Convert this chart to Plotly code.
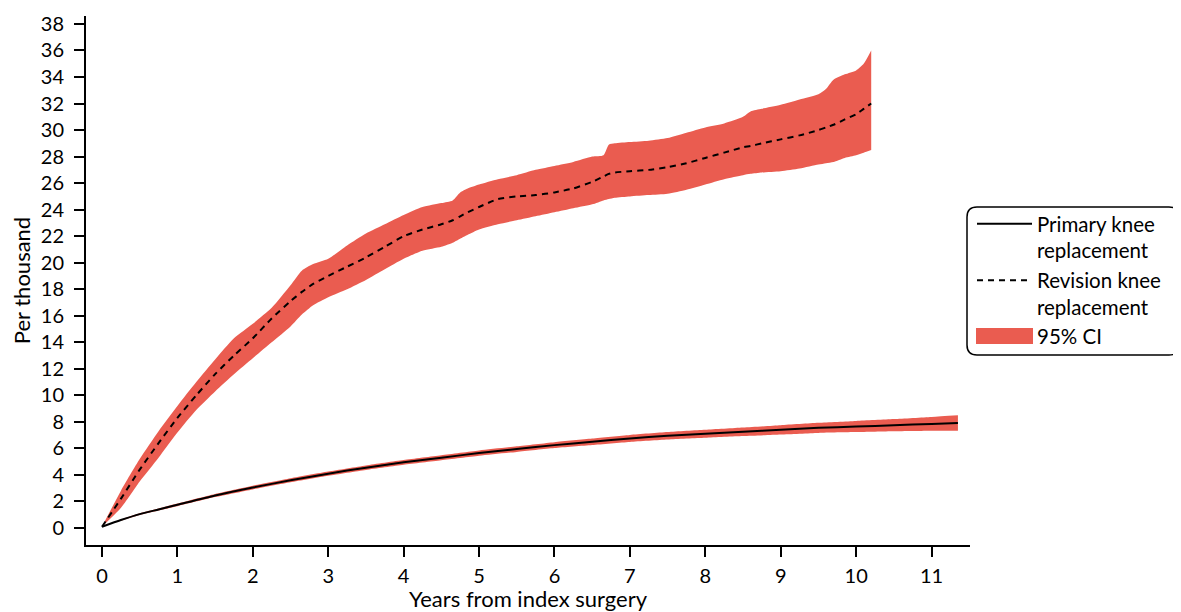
import plotly.graph_objects as go

# ---- data ----
prim_x = [0, 0.25, 0.5, 0.75, 1, 1.5, 2, 2.5, 3, 3.5, 4, 4.5, 5, 5.5, 6, 6.5,
          7, 7.5, 8, 8.5, 9, 9.5, 10, 10.5, 11, 11.35]
prim_y = [0.1, 0.6, 1.05, 1.4, 1.75, 2.45, 3.05, 3.6, 4.1, 4.55, 4.95, 5.3,
          5.65, 5.95, 6.25, 6.5, 6.75, 6.95, 7.1, 7.25, 7.4, 7.55, 7.65, 7.75,
          7.85, 7.92]
prim_lo = [0.1, 0.55, 0.98, 1.32, 1.65, 2.33, 2.91, 3.45, 3.94, 4.38, 4.77,
           5.11, 5.45, 5.74, 6.03, 6.26, 6.49, 6.67, 6.8, 6.93, 7.05, 7.17,
           7.23, 7.29, 7.33, 7.34]
prim_hi = [0.1, 0.65, 1.12, 1.48, 1.85, 2.57, 3.19, 3.75, 4.26, 4.72, 5.13,
           5.49, 5.85, 6.16, 6.47, 6.74, 7.01, 7.23, 7.4, 7.57, 7.75, 7.93,
           8.07, 8.21, 8.37, 8.5]

rev_x = [0, 0.25, 0.5, 0.75, 1.0, 1.25, 1.5, 1.75, 2.0, 2.25, 2.5, 2.65, 2.8,
         3.0, 3.25, 3.5, 3.75, 4.0, 4.25, 4.5, 4.65, 4.75, 4.85, 5.0, 5.25,
         5.5, 5.75, 6.0, 6.25, 6.5, 6.65, 6.72, 6.8, 7.0, 7.25, 7.5, 7.75,
         8.0, 8.25, 8.5, 8.6, 8.75, 9.0, 9.25, 9.5, 9.6, 9.7, 9.85, 10.0,
         10.1, 10.2]
rev_y = [0.1, 2.2, 4.4, 6.4, 8.3, 10.0, 11.6, 13.0, 14.3, 15.8, 17.1, 17.8,
         18.4, 19.0, 19.7, 20.4, 21.2, 22.0, 22.5, 22.9, 23.2, 23.5, 23.8,
         24.2, 24.8, 25.0, 25.1, 25.3, 25.6, 26.1, 26.5, 26.7, 26.8, 26.9,
         27.0, 27.2, 27.5, 27.9, 28.3, 28.7, 28.8, 29.0, 29.3, 29.6, 30.0,
         30.2, 30.4, 30.8, 31.2, 31.6, 32.0]
rev_hi = [0.1, 2.8, 5.2, 7.3, 9.2, 11.0, 12.7, 14.3, 15.4, 16.6, 18.3, 19.4,
          19.9, 20.3, 21.3, 22.2, 22.9, 23.6, 24.2, 24.5, 24.7, 25.3, 25.6,
          25.9, 26.3, 26.6, 27.0, 27.3, 27.6, 28.0, 28.1, 28.9, 29.0, 29.1,
          29.2, 29.4, 29.8, 30.2, 30.5, 31.0, 31.4, 31.6, 31.9, 32.3, 32.7,
          33.1, 33.8, 34.2, 34.5, 35.0, 36.0]
rev_lo = [0.1, 1.5, 3.5, 5.3, 7.2, 8.9, 10.3, 11.6, 12.8, 14.0, 15.2, 16.1,
          16.8, 17.4, 18.0, 18.7, 19.5, 20.3, 20.9, 21.2, 21.5, 21.8, 22.1,
          22.5, 22.9, 23.2, 23.5, 23.8, 24.1, 24.4, 24.7, 24.8, 24.9, 25.0,
          25.1, 25.2, 25.5, 25.9, 26.3, 26.6, 26.7, 26.8, 26.9, 27.1, 27.4,
          27.5, 27.6, 27.9, 28.1, 28.3, 28.5]

x_ticks = list(range(0, 12))
y_ticks = list(range(0, 40, 2))

RED = "#EA5C50"
FONT = "Lato"

fig = go.Figure()

# primary CI band
fig.add_trace(go.Scatter(x=prim_x, y=prim_lo, mode="lines",
                         line=dict(width=0, shape="spline", smoothing=0.6),
                         showlegend=False, hoverinfo="skip"))
fig.add_trace(go.Scatter(x=prim_x, y=prim_hi, mode="lines", fill="tonexty",
                         fillcolor=RED,
                         line=dict(width=0, shape="spline", smoothing=0.6),
                         showlegend=False, hoverinfo="skip"))
# revision CI band
fig.add_trace(go.Scatter(x=rev_x, y=rev_lo, mode="lines",
                         line=dict(width=0, shape="spline", smoothing=0.6),
                         showlegend=False, hoverinfo="skip"))
fig.add_trace(go.Scatter(x=rev_x, y=rev_hi, mode="lines", fill="tonexty",
                         fillcolor=RED, name="95% CI", legendrank=3,
                         line=dict(width=0, color=RED, shape="spline",
                                   smoothing=0.6),
                         showlegend=True))
# central lines
fig.add_trace(go.Scatter(x=prim_x, y=prim_y, mode="lines",
                         name="Primary knee<br>replacement", legendrank=1,
                         line=dict(color="black", width=2, shape="spline",
                                   smoothing=0.6)))
fig.add_trace(go.Scatter(x=rev_x, y=rev_y, mode="lines",
                         name="Revision knee<br>replacement", legendrank=2,
                         line=dict(color="black", width=2, dash="6px,5px",
                                   shape="spline", smoothing=0.6)))

# the page body adds an 8px offset at top/left
OFF = 8
W, H = 1181 - OFF, 612 - OFF
L, T = 86 - OFF, 16 - OFF
pw, ph = 884, 529
R, B = W - L - pw, H - T - ph


def px2paper(px, py):
    # screen pixel -> paper coordinates
    return (px - OFF - L) / pw, (T + ph - (py - OFF)) / ph


# rounded legend frame
x0, y0 = 967, 207
x1, y1 = 1179, 355
rr = 10
def P(px, py):
    a, b = px2paper(px, py)
    return f"{a:.5f},{b:.5f}"
path = (f"M {P(x0 + rr, y0)} L {P(x1 - rr, y0)} Q {P(x1, y0)} {P(x1, y0 + rr)} "
        f"L {P(x1, y1 - rr)} Q {P(x1, y1)} {P(x1 - rr, y1)} "
        f"L {P(x0 + rr, y1)} Q {P(x0, y1)} {P(x0, y1 - rr)} "
        f"L {P(x0, y0 + rr)} Q {P(x0, y0)} {P(x0 + rr, y0)} Z")
fig.add_shape(type="path", path=path, xref="paper", yref="paper",
              line=dict(color="black", width=1.5), layer="below")

# enlarge the 95% CI legend swatch
sx0, sy0 = px2paper(976, 344)
sx1, sy1 = px2paper(1033, 328)
fig.add_shape(type="rect", x0=sx0, y0=sy0, x1=sx1, y1=sy1, xref="paper",
              yref="paper", fillcolor=RED, line=dict(width=0), layer="above")

lx, ly = px2paper(972, 204)

fig.update_layout(
    width=W, height=H,
    margin=dict(l=L, r=R, t=T, b=B, autoexpand=False),
    paper_bgcolor="white", plot_bgcolor="white",
    font=dict(family=FONT, size=19, color="black"),
    showlegend=True,
    legend=dict(x=lx, y=ly, xanchor="left", yanchor="top",
                bgcolor="rgba(0,0,0,0)", borderwidth=0,
                font=dict(family=FONT, size=20.5, color="black"),
                itemwidth=55, valign="top", tracegroupgap=0,
                traceorder="normal"),
    xaxis=dict(range=[-0.212, 11.51], tickmode="array", tickvals=x_ticks,
               ticktext=[str(v) for v in x_ticks], automargin=False,
               showgrid=False, zeroline=False, showline=True,
               linecolor="black", linewidth=2, ticks="outside", ticklen=10,
               tickwidth=1.5, tickcolor="black", ticklabelstandoff=2,
               tickfont=dict(family=FONT, size=20),
               title=dict(text="Years from index surgery",
                          font=dict(family=FONT, size=22), standoff=2)),
    yaxis=dict(range=[-1.28, 38.6], tickmode="array", tickvals=y_ticks,
               ticktext=[str(v) for v in y_ticks], automargin=False,
               showgrid=False, zeroline=False, showline=True,
               linecolor="black", linewidth=2, ticks="outside", ticklen=10,
               tickwidth=1.5, tickcolor="black", ticklabelstandoff=6,
               tickfont=dict(family=FONT, size=20),
               title=dict(text="Per thousand",
                          font=dict(family=FONT, size=22), standoff=10)),
)

fig.write_html("out.html")
